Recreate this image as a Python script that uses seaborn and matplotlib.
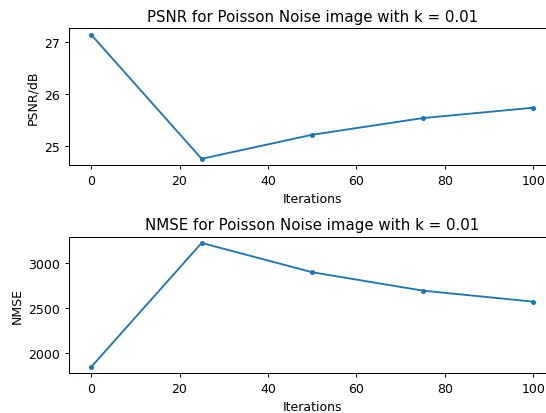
import matplotlib
matplotlib.use("Agg")
import matplotlib.pyplot as plt
import seaborn as sns
import pandas as pd

iterations = [0, 25, 50, 75, 100]
psnr = [27.148, 24.756, 25.219, 25.54, 25.74]
nmse = [1849, 3221, 2897, 2694, 2572]

df = pd.DataFrame({"Iterations": iterations, "PSNR": psnr, "NMSE": nmse})

dpi = 90
fig = plt.figure(figsize=(546 / dpi, 414 / dpi), dpi=dpi)
ax1 = fig.add_axes([0.1264, 0.599, 1.0172 - 0.1264, 0.929 - 0.599])
ax2 = fig.add_axes([0.1264, 0.0959, 1.0172 - 0.1264, 0.4258 - 0.0959])

color = "#1f77b4"
sns.lineplot(data=df, x="Iterations", y="PSNR", marker=".", markersize=6,
             markeredgecolor=color, markeredgewidth=1, color=color, ax=ax1)
ax1.set_title("PSNR for Poisson Noise image with k = 0.01")
ax1.set_ylabel("PSNR/dB")
ax1.set_xlabel("Iterations")

sns.lineplot(data=df, x="Iterations", y="NMSE", marker=".", markersize=6,
             markeredgecolor=color, markeredgewidth=1, color=color, ax=ax2)
ax2.set_title("NMSE for Poisson Noise image with k = 0.01")
ax2.set_ylabel("NMSE")
ax2.set_xlabel("Iterations")

fig.savefig("out.png", dpi=dpi)
